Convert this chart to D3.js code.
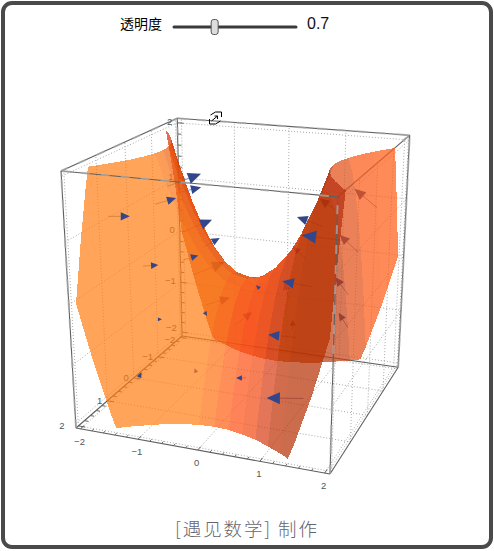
<!DOCTYPE html>
<html>
<head>
<meta charset="utf-8">
<script src="https://cdnjs.cloudflare.com/ajax/libs/d3/7.8.5/d3.min.js"></script>
<style>
  html, body { margin: 0; padding: 0; background: #fff; }
  svg { display: block; }
</style>
</head>
<body>
<div id="chart"></div>
<script>
// Tick values on the three box axes
var axisTicks = [-2, -1, 0, 1, 2];
var surfaceX = [-2, -1.75, -1.5, -1.25, -1, -0.75, -0.5, -0.25, 0, 0.25, 0.5, 0.75, 1, 1.25, 1.5, 1.75, 2];
var surfaceY = surfaceX;

// Surface height, one row per surfaceY value
var rowA = [0, -0.94, -1.75, -2.44, -3, -3.44, -3.75, -3.94, -4, -3.94, -3.75, -3.44, -3, -2.44, -1.75, -0.94, 0];
var rowB = [0.94, 0, -0.81, -1.5, -2.06, -2.5, -2.81, -3, -3.06, -3, -2.81, -2.5, -2.06, -1.5, -0.81, 0, 0.94];
var rowC = [1.75, 0.81, 0, -0.69, -1.25, -1.69, -2, -2.19, -2.25, -2.19, -2, -1.69, -1.25, -0.69, 0, 0.81, 1.75];
var rowD = [2.44, 1.5, 0.69, 0, -0.56, -1, -1.31, -1.5, -1.56, -1.5, -1.31, -1, -0.56, 0, 0.69, 1.5, 2.44];
var rowE = [3, 2.06, 1.25, 0.56, 0, -0.44, -0.75, -0.94, -1, -0.94, -0.75, -0.44, 0, 0.56, 1.25, 2.06, 3];
var rowF = [3.44, 2.5, 1.69, 1, 0.44, 0, -0.31, -0.5, -0.56, -0.5, -0.31, 0, 0.44, 1, 1.69, 2.5, 3.44];
var rowG = [3.75, 2.81, 2, 1.31, 0.75, 0.31, 0, -0.19, -0.25, -0.19, 0, 0.31, 0.75, 1.31, 2, 2.81, 3.75];
var rowH = [3.94, 3, 2.19, 1.5, 0.94, 0.5, 0.19, 0, -0.06, 0, 0.19, 0.5, 0.94, 1.5, 2.19, 3, 3.94];
var rowI = [4, 3.06, 2.25, 1.56, 1, 0.56, 0.25, 0.06, 0, 0.06, 0.25, 0.56, 1, 1.56, 2.25, 3.06, 4];
var surfaceZ = [rowA, rowB, rowC, rowD, rowE, rowF, rowG, rowH, rowI, rowH, rowG, rowF, rowE, rowD, rowC, rowB, rowA];

// Arrows in the y = 0 plane: [x, z, dx, dz]. Front ones sit over the surface
var arrowsFront = [
  [-1.35, 1.41, 0.59, 0.26], [-1.20, 1.31, 0.44, 0.14], [-1.58, 1.09, 0.38, 0.14],
  [-2.44, 0.80, 0.40, 0.04], [-1.83, 0, 0.28, 0.05], [-1.58, -0.92, 0.07, 0.01],
  [-1.10, 0.67, 0.52, 0.26], [-0.74, 0.45, 0.29, 0.19], [-1.10, 0.19, 0.27, 0.11],
  [-0.74, -0.66, 0.05, -0.08], [1.26, 1.01, -0.42, 0.11], [1.58, 0.82, -0.66, 0.01],
  [1.12, 0, -0.51, 0.03], [0.24, -0.15, -0.07, 0.06], [0.87, -0.90, -0.49, -0.02],
  [0, -1.75, -0.18, -0.03], [1.0, -1.96, -0.64, -0.10], [-2.01, -2.12, 0.08, 0.17]
];
var arrowsBehind = [
  [-0.93, -0.05, 0.56, 0.29], [-0.72, -0.55, 0.44, 0.19], [-0.19, -0.83, 0.29, 0.27],
  [1.52, 1.25, -0.32, 0.20], [2.10, 1.39, -0.36, 0.26], [1.83, 0.66, -0.30, 0.24],
  [0.99, 0.46, -0.21, 0.17], [1.70, -0.06, -0.22, 0.27], [1.71, -0.61, -0.16, 0.23],
  [0.72, -0.24, -0.07, 0.26], [0.79, -0.78, 0.01, 0.18], [-0.90, -1.80, -0.03, 0.08]
];

var sliderValue = 0.7;
var sliderRange = [0.55, 1];

var width = 494, height = 551;
var boxMax = 2.08; // the box sits a little outside the +-2 ticks
var navy = "#33468a";

var svg = d3.select("#chart").append("svg").attr("width", width).attr("height", height);

// Perspective of the box: pixel corners of three edges from the front bottom left
var cornerO = [76, 428], cornerX = [330, 474], cornerY = [182, 336], cornerZ = [61, 171];
var persp = { x: -0.08, y: 0.2, z: -0.08 };

var unitX = d3.scaleLinear().domain([-boxMax, boxMax]).range([0, 1]);
var unitY = d3.scaleLinear().domain([boxMax, -boxMax]).range([0, 1]);
var unitZ = d3.scaleLinear().domain([-boxMax, boxMax]).range([0, 1]);

function depth(x, y, z) {
  return 1 + persp.x * unitX(x) + persp.y * unitY(y) + persp.z * unitZ(z);
}

function project(x, y, z) {
  var u = unitX(x), v = unitY(y), w = unitZ(z), d = depth(x, y, z);
  return [0, 1].map(function (i) {
    return (cornerO[i]
      + u * (cornerX[i] * (1 + persp.x) - cornerO[i])
      + v * (cornerY[i] * (1 + persp.y) - cornerO[i])
      + w * (cornerZ[i] * (1 + persp.z) - cornerO[i])) / d;
  });
}

var lineGen = d3.line();

function seg(g, a, b) {
  return g.append("path").attr("d", lineGen([project(a[0], a[1], a[2]), project(b[0], b[1], b[2])])).attr("fill", "none");
}

//=====================================================================//

// Grid on the faces behind the surface
var gridG = svg.append("g").attr("stroke", "#a9a9a9").attr("stroke-width", 1).attr("stroke-dasharray", "1,2");
var m = boxMax;
axisTicks.forEach(function (t) {
  // left and right walls
  [-m, m].forEach(function (wall) {
    seg(gridG, [wall, t, -m], [wall, t, m]);
    seg(gridG, [wall, -m, t], [wall, m, t]);
  });
  // back wall
  seg(gridG, [t, -m, -m], [t, -m, m]);
  seg(gridG, [-m, -m, t], [m, -m, t]);
  // floor
  seg(gridG, [t, -m, -m], [t, m, -m]);
  seg(gridG, [-m, t, -m], [m, t, -m]);
});

// Edges that lie behind the surface
var backEdges = [
  [[-m, -m, m], [m, -m, m]], [[-m, -m, -m], [-m, -m, m]], [[-m, -m, -m], [m, -m, -m]],
  [[-m, -m, -m], [-m, m, -m]], [[m, -m, -m], [m, m, -m]], [[-m, -m, m], [-m, m, m]],
  [[m, -m, m], [m, m, m]], [[m, -m, -m], [m, -m, m]]
];
// Edges drawn on top of it
var frontEdges = [
  [[-m, m, m], [m, m, m]], [[m, m, -m], [m, m, m]], [[-m, m, -m], [-m, m, m]], [[-m, m, -m], [m, m, -m]]
];

function drawEdges(g, edges) {
  edges.forEach(function (e) {
    seg(g, e[0], e[1]).attr("stroke", "#5f5f5f").attr("stroke-width", 1.1);
    // floor edges stay plain
    if (e[0][2] === -m && e[1][2] === -m) return;
    seg(g, e[0], e[1]).attr("stroke", "#aaa").attr("stroke-opacity", 0.75).attr("stroke-width", 2).attr("stroke-dasharray", "9,11");
  });
}
drawEdges(svg.append("g"), backEdges);

// Axis ticks, major on the integers
var tickG = svg.append("g").attr("stroke", "#666").attr("stroke-width", 1);
d3.range(-10, 11).forEach(function (i) {
  var t = i / 5, major = i % 5 === 0, len = major ? 0.12 : 0.07;
  seg(tickG, [t, m, -m], [t, m - len, -m]);
  seg(tickG, [-m, t, -m], [-m + len, t, -m]);
  seg(tickG, [-m, -m, t], [-m + len, -m, t]);
});

// Tick labels
var labelG = svg.append("g").attr("font-family", "Liberation Sans").attr("font-size", 9.5).attr("fill", "#555");
function fmt(t) { return t < 0 ? "\u2212" + (-t) : "" + t; }
axisTicks.forEach(function (t) {
  var px = project(t, m, -m);
  labelG.append("text").attr("x", px[0] - 1).attr("y", px[1] + 16).attr("text-anchor", "middle").text(fmt(t));
  var py = project(-m, t, -m);
  labelG.append("text").attr("x", py[0] - (t === 2 ? 14 : 5)).attr("y", py[1] + (t === -2 ? 6 : 3)).attr("text-anchor", "end").text(fmt(t));
  var pz = project(-m, -m, t);
  labelG.append("text").attr("x", pz[0] - 5).attr("y", pz[1] + (t === -2 ? -1 : 2)).attr("text-anchor", "end").text(fmt(t));
});

//=====================================================================//

// Arrows: the shaft always runs under the surface, the head can be either side
function arrowPoints(a) {
  var t = project(a[0], 0, a[1]), h = project(a[0] + a[2], 0, a[1] + a[3]);
  var dx = h[0] - t[0], dy = h[1] - t[1], len = Math.sqrt(dx * dx + dy * dy) || 1;
  var cone = 3 + 0.28 * len, half = 1.5 + 0.12 * len;
  var ux = dx / len, uy = dy / len;
  var bx = h[0] - ux * cone, by = h[1] - uy * cone;
  return { tail: t, base: [bx, by], head: h, tri: [h, [bx - uy * half, by + ux * half], [bx + uy * half, by - ux * half]] };
}

var shaftG = svg.append("g");
shaftG.selectAll("path").data(arrowsFront.concat(arrowsBehind)).enter().append("path")
  .attr("d", function (d) { var p = arrowPoints(d); return lineGen([p.tail, p.base]); })
  .attr("stroke", navy).attr("stroke-opacity", 0.6).attr("stroke-width", 1);

function drawHeads(list) {
  svg.append("g").selectAll("path").data(list).enter().append("path")
    .attr("d", function (d) { return lineGen(arrowPoints(d).tri) + "Z"; })
    .attr("fill", navy);
}
drawHeads(arrowsBehind);

//=====================================================================//

// Surface facets, clipped to the z range and painted back to front
var defs = svg.append("defs");
defs.append("filter").attr("id", "soft").append("feGaussianBlur").attr("stdDeviation", 0.45);

function clipZ(poly, limit, keepBelow) {
  var out = [];
  poly.forEach(function (p, i) {
    var q = poly[(i + 1) % poly.length];
    var pIn = keepBelow ? p[2] <= limit : p[2] >= limit;
    var qIn = keepBelow ? q[2] <= limit : q[2] >= limit;
    if (pIn) out.push(p);
    if (pIn !== qIn) {
      var f = (limit - p[2]) / (q[2] - p[2]);
      out.push([p[0] + f * (q[0] - p[0]), p[1] + f * (q[1] - p[1]), limit]);
    }
  });
  return out;
}

var clamp01 = d3.scaleLinear().domain([0, 1]).range([0, 1]).clamp(true);

// Colour of a facet from its slopes along x and y
function facetColor(sx, sy) {
  var left = d3.interpolateRgb("rgb(255,125,22)", "rgb(213,51,0)")(clamp01((sy + 0.5) / 2));
  var right = sy < 0
    ? d3.interpolateRgb("rgb(255,80,15)", "rgb(181,45,5)")(clamp01((sx - 1) / 1.4))
    : d3.interpolateRgb("rgb(255,88,20)", "rgb(190,60,10)")(clamp01((3.3 - sx) / 1.2));
  return d3.interpolateRgb(left, right)(clamp01((sx + 0.6) / 1.2));
}

var facets = [];
for (var j = 0; j < surfaceY.length - 1; j++) {
  for (var i = 0; i < surfaceX.length - 1; i++) {
    var z00 = surfaceZ[j][i], z10 = surfaceZ[j][i + 1], z01 = surfaceZ[j + 1][i], z11 = surfaceZ[j + 1][i + 1];
    var stepX = surfaceX[i + 1] - surfaceX[i], stepY = surfaceY[j + 1] - surfaceY[j];
    var poly = [
      [surfaceX[i], surfaceY[j], z00], [surfaceX[i + 1], surfaceY[j], z10],
      [surfaceX[i + 1], surfaceY[j + 1], z11], [surfaceX[i], surfaceY[j + 1], z01]
    ];
    poly = clipZ(clipZ(poly, 2, true), -2, false);
    if (poly.length < 3) continue;
    facets.push({
      pts: poly,
      sx: (z10 + z11 - z00 - z01) / (2 * stepX),
      sy: (z01 + z11 - z00 - z10) / (2 * stepY),
      depth: d3.mean(poly, function (p) { return depth(p[0], p[1], p[2]); })
    });
  }
}
facets.sort(function (a, b) { return b.depth - a.depth; });

svg.append("g").attr("filter", "url(#soft)").selectAll("path").data(facets).enter().append("path")
  .attr("d", function (d) { return lineGen(d.pts.map(function (p) { return project(p[0], p[1], p[2]); })) + "Z"; })
  .attr("fill", function (d) { return facetColor(d.sx, d.sy); })
  .attr("fill-opacity", sliderValue)
  .attr("shape-rendering", "crispEdges");

drawEdges(svg.append("g"), frontEdges);
drawHeads(arrowsFront);

//=====================================================================//

// Rotation cursor
var cursor = svg.append("g").attr("transform", "translate(215.5,118)").attr("fill", "none").attr("stroke", "#000").attr("stroke-width", 1);
cursor.append("path").attr("d", "M-6,1V6H0L5,3");
cursor.append("path").attr("d", "M6,-1V-6H0L-5,-3");
cursor.append("path").attr("d", "M-4,3L2,-2M-1,-2H2V1");

// Slider header
var sliderScale = d3.scaleLinear().domain(sliderRange).range([174, 296]);
svg.append("text").attr("x", 120).attr("y", 29).attr("font-family", "Noto Sans CJK SC").attr("font-size", 14).attr("fill", "#000").text("透明度");
svg.append("line").attr("x1", 174).attr("x2", 296).attr("y1", 27).attr("y2", 27).attr("stroke", "#3a3a3a").attr("stroke-width", 3).attr("stroke-linecap", "round");
svg.append("rect").attr("x", sliderScale(sliderValue) - 3.5).attr("y", 19.5).attr("width", 7).attr("height", 15).attr("rx", 2.5)
  .attr("fill", "#dcdcdc").attr("stroke", "#555");
svg.append("text").attr("x", 307).attr("y", 29).attr("font-family", "Liberation Sans").attr("font-size", 16).attr("fill", "#111").text(sliderValue);

// Footer and frame
svg.append("text").attr("x", 175).attr("y", 536).attr("font-family", "Noto Sans CJK SC").attr("font-weight", 300).attr("font-size", 18.5).attr("letter-spacing", 1.9).attr("fill", "#666672").text("[遇见数学] 制作");
svg.append("rect").attr("x", 3).attr("y", 3).attr("width", 488).attr("height", 544).attr("rx", 9)
  .attr("fill", "none").attr("stroke", "#4a4a4a").attr("stroke-width", 4);
</script>
</body>
</html>
